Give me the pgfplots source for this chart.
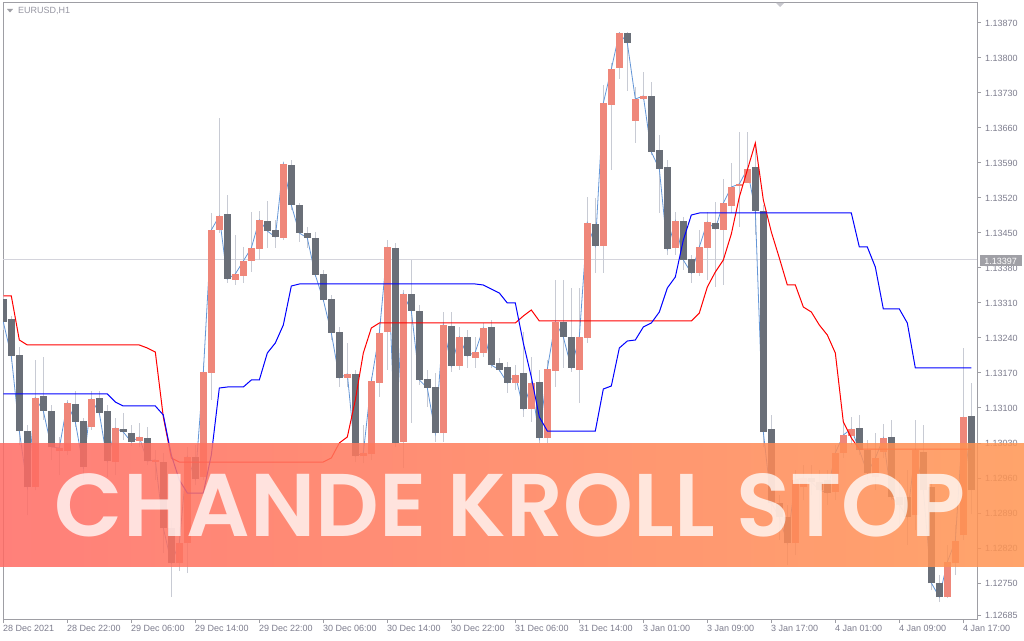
\documentclass[border=0pt]{standalone}
\usepackage{graphicx}
\usepackage{fontspec}
\setmainfont{Liberation Sans}
\newfontfamily\bannerfont{Poppins SemiBold}
\usepackage{pgfplots}
\pgfplotsset{compat=1.18}
\usepackage{pgfplotstable}
\definecolor{bullc}{RGB}{239,135,122}
\definecolor{bearc}{RGB}{106,111,120}
\definecolor{wickc}{RGB}{200,203,212}
\definecolor{closec}{RGB}{100,150,215}
\definecolor{axisc}{RGB}{158,158,164}
\definecolor{tickc}{RGB}{125,125,142}
\definecolor{titlec}{RGB}{150,150,162}
\definecolor{markc}{RGB}{200,200,206}
\definecolor{bidc}{RGB}{212,212,220}
\definecolor{bannerL}{RGB}{255,106,99}
\definecolor{bannerR}{RGB}{255,149,82}
\definecolor{priceboxc}{RGB}{160,160,166}
\pgfplotstableread{
i o h l c
0 1.13318 1.13326 1.13256 1.13272
1 1.13278 1.13284 1.13192 1.13204
2 1.13206 1.13222 1.13026 1.13054
3 1.13054 1.13066 1.12886 1.12942
4 1.12942 1.13196 1.12936 1.13120
5 1.13124 1.13202 1.13076 1.13094
6 1.13094 1.13106 1.12996 1.13022
7 1.13014 1.13042 1.12966 1.13020
8 1.13014 1.13116 1.13006 1.13110
9 1.13108 1.13134 1.13062 1.13072
10 1.13074 1.13080 1.12956 1.12982
11 1.13062 1.13134 1.13056 1.13118
12 1.13120 1.13134 1.13086 1.13090
13 1.13094 1.13106 1.12962 1.12994
14 1.12992 1.13080 1.12966 1.13060
15 1.13058 1.13090 1.13036 1.13052
16 1.13050 1.13066 1.13024 1.13032
17 1.13034 1.13070 1.13022 1.13042
18 1.13040 1.13062 1.12986 1.12994
19 1.12992 1.13016 1.12956 1.12996
20 1.12992 1.13010 1.12810 1.12860
21 1.12860 1.12876 1.12722 1.12790
22 1.12790 1.12862 1.12774 1.12830
23 1.12830 1.13022 1.12770 1.13002
24 1.13002 1.13026 1.12946 1.12958
25 1.12962 1.13190 1.12956 1.13172
26 1.13170 1.13490 1.13116 1.13456
27 1.13456 1.13680 1.13450 1.13484
28 1.13488 1.13526 1.13350 1.13358
29 1.13356 1.13446 1.13346 1.13368
30 1.13364 1.13422 1.13350 1.13394
31 1.13394 1.13492 1.13372 1.13420
32 1.13418 1.13494 1.13396 1.13476
33 1.13474 1.13514 1.13420 1.13454
34 1.13456 1.13476 1.13420 1.13442
35 1.13440 1.13592 1.13436 1.13588
36 1.13586 1.13596 1.13496 1.13506
37 1.13506 1.13510 1.13432 1.13450
38 1.13450 1.13462 1.13420 1.13440
39 1.13440 1.13452 1.13362 1.13366
40 1.13368 1.13376 1.13312 1.13316
41 1.13318 1.13326 1.13236 1.13250
42 1.13252 1.13262 1.13142 1.13160
43 1.13160 1.13230 1.13142 1.13168
44 1.13168 1.13176 1.12992 1.13004
45 1.13004 1.13066 1.12990 1.13010
46 1.13008 1.13162 1.12996 1.13154
47 1.13150 1.13270 1.13122 1.13250
48 1.13252 1.13436 1.13176 1.13422
49 1.13420 1.13430 1.13022 1.13030
50 1.13032 1.13336 1.12980 1.13328
51 1.13328 1.13396 1.13070 1.13294
52 1.13294 1.13306 1.13146 1.13156
53 1.13158 1.13176 1.13102 1.13140
54 1.13142 1.13170 1.13032 1.13050
55 1.13050 1.13292 1.13032 1.13266
56 1.13264 1.13292 1.13172 1.13184
57 1.13184 1.13262 1.13176 1.13242
58 1.13242 1.13256 1.13180 1.13204
59 1.13200 1.13242 1.13180 1.13212
60 1.13210 1.13270 1.13202 1.13260
61 1.13262 1.13276 1.13180 1.13186
62 1.13190 1.13200 1.13172 1.13176
63 1.13182 1.13192 1.13130 1.13150
64 1.13150 1.13186 1.13136 1.13166
65 1.13170 1.13252 1.13082 1.13098
66 1.13098 1.13202 1.13072 1.13150
67 1.13152 1.13176 1.13030 1.13040
68 1.13040 1.13196 1.13030 1.13178
69 1.13174 1.13356 1.13142 1.13272
70 1.13272 1.13356 1.13180 1.13242
71 1.13242 1.13340 1.13172 1.13180
72 1.13176 1.13340 1.13110 1.13242
73 1.13240 1.13522 1.13230 1.13470
74 1.13468 1.13520 1.13370 1.13424
75 1.13424 1.13746 1.13370 1.13710
76 1.13706 1.13790 1.13576 1.13778
77 1.13780 1.13852 1.13758 1.13850
78 1.13850 1.13852 1.13734 1.13830
79 1.13674 1.13742 1.13630 1.13718
80 1.13718 1.13772 1.13716 1.13724
81 1.13724 1.13752 1.13606 1.13612
82 1.13616 1.13646 1.13490 1.13578
83 1.13582 1.13596 1.13406 1.13418
84 1.13420 1.13492 1.13406 1.13474
85 1.13474 1.13482 1.13376 1.13396
86 1.13398 1.13406 1.13350 1.13370
87 1.13370 1.13456 1.13364 1.13422
88 1.13420 1.13492 1.13356 1.13472
89 1.13470 1.13512 1.13342 1.13458
90 1.13456 1.13558 1.13346 1.13510
91 1.13504 1.13590 1.13490 1.13542
92 1.13544 1.13652 1.13462 1.13548
93 1.13550 1.13652 1.13550 1.13578
94 1.13582 1.13626 1.13446 1.13494
95 1.13494 1.13506 1.13022 1.13052
96 1.13058 1.13086 1.12890 1.12910
97 1.12910 1.12926 1.12836 1.12882
98 1.12882 1.12906 1.12786 1.12830
99 1.12830 1.12976 1.12806 1.12956
100 1.12942 1.12986 1.12916 1.12960
101 1.12960 1.12986 1.12926 1.12952
102 1.12952 1.12976 1.12876 1.12936
103 1.12956 1.12976 1.12906 1.12930
104 1.12932 1.13026 1.12916 1.13010
105 1.13010 1.13076 1.13000 1.13046
106 1.13044 1.13082 1.13026 1.13058
107 1.13060 1.13086 1.13006 1.13016
108 1.13016 1.13036 1.12956 1.12970
109 1.12962 1.13050 1.12936 1.13000
110 1.13012 1.13068 1.13000 1.13040
111 1.13042 1.13076 1.12916 1.12922
112 1.12922 1.12956 1.12866 1.12906
113 1.12922 1.12976 1.12826 1.12882
114 1.12886 1.13076 1.12856 1.13016
115 1.13012 1.13066 1.12926 1.12936
116 1.12942 1.12956 1.12736 1.12750
117 1.12750 1.12766 1.12712 1.12722
118 1.12722 1.12826 1.12720 1.12792
119 1.12790 1.12866 1.12766 1.12834
120 1.12846 1.13220 1.12836 1.13082
121 1.13084 1.13150 1.12888 1.12936
}\candles
\pgfplotstableread{
i v
0 1.13324
1 1.13324
2 1.13236
3 1.13226
17 1.13226
18 1.13220
19 1.13212
20 1.13082
21 1.13000
22 1.12992
40 1.12992
41 1.13000
42 1.13030
43 1.13042
44 1.13116
45 1.13210
46 1.13260
47 1.13270
64 1.13270
65 1.13284
66 1.13296
67 1.13274
86 1.13274
87 1.13290
88 1.13342
89 1.13372
90 1.13396
91 1.13448
92 1.13522
93 1.13576
94 1.13630
95 1.13516
96 1.13452
97 1.13400
98 1.13346
99 1.13346
100 1.13302
101 1.13292
102 1.13266
103 1.13246
104 1.13210
105 1.13072
106 1.13040
107 1.13018
121 1.13018
}\redstop
\pgfplotstableread{
i v
0 1.13128
13 1.13128
14 1.13112
15 1.13104
19 1.13104
20 1.13086
21 1.13006
22 1.12956
23 1.12930
25 1.12930
26 1.13006
27 1.13140
28 1.13142
30 1.13142
31 1.13156
32 1.13156
33 1.13210
34 1.13230
35 1.13266
36 1.13344
37 1.13348
59 1.13348
60 1.13346
61 1.13338
62 1.13330
63 1.13310
64 1.13310
65 1.13230
66 1.13162
67 1.13082
68 1.13054
74 1.13054
75 1.13138
76 1.13144
77 1.13220
78 1.13234
79 1.13236
80 1.13262
81 1.13270
82 1.13292
83 1.13340
84 1.13362
85 1.13436
86 1.13486
87 1.13490
106 1.13490
107 1.13422
108 1.13422
109 1.13382
110 1.13298
112 1.13298
113 1.13270
114 1.13180
121 1.13180
}\bluestop
\begin{document}
\begin{tikzpicture}
\useasboundingbox (0,0) rectangle (1024pt,640pt);
\fill[white] (0,0) rectangle (1024pt,640pt);
\begin{axis}[
  at={(3pt,21pt)}, anchor=south west,
  scale only axis, width=974pt, height=616pt,
  xmin=-0.04, xmax=121.71, ymin=1.12678, ymax=1.13910,
  axis line style={draw=axisc, line width=1pt},
  xtick={0,8,...,120},
  xticklabels={28 Dec 2021,28 Dec 22:00,29 Dec 06:00,29 Dec 14:00,29 Dec 22:00,30 Dec 06:00,30 Dec 14:00,30 Dec 22:00,31 Dec 06:00,31 Dec 14:00,3 Jan 01:00,3 Jan 09:00,3 Jan 17:00,4 Jan 01:00,4 Jan 09:00,4 Jan 17:00},
  ytick={1.12685,1.12750,1.12820,1.12890,1.12960,1.13030,1.13100,1.13170,1.13240,1.13310,1.13380,1.13450,1.13520,1.13590,1.13660,1.13730,1.13800,1.13870},
  yticklabels={1.12685,1.12750,1.12820,1.12890,1.12960,1.13030,1.13100,1.13170,1.13240,1.13310,1.13380,1.13450,1.13520,1.13590,1.13660,1.13730,1.13800,1.13870},
  xtick pos=left, ytick pos=right, yticklabel pos=right,
  tick align=outside, major tick length=4pt,
  tick style={draw=axisc, line width=1pt},
  ticklabel style={font=\fontsize{9pt}{10pt}\selectfont, text=tickc},
  xticklabel style={anchor=north west, inner sep=0pt, yshift=-2pt, xshift=-0.5pt},
  yticklabel style={anchor=west, inner sep=0pt, xshift=4pt},
  scaled y ticks=false,
  clip=true,
]
% bid line
\addplot[bidc, line width=1pt, forget plot] coordinates {(-0.04,1.13397) (121.71,1.13397)};
% wicks
\addplot[draw=none, no marks, forget plot,
  error bars/.cd, y dir=plus, y explicit, error mark=none,
  error bar style={line width=1pt, draw=wickc}]
  table[x=i, y=l, y error plus expr={\thisrow{h}-\thisrow{l}}] {\candles};
% close line
\addplot[closec, line width=0.8pt, no marks, forget plot] table[x=i, y=c] {\candles};
% bull bodies
\addplot[draw=none, no marks, forget plot,
  error bars/.cd, y dir=plus, y explicit, error mark=none,
  error bar style={line width=7pt, draw=bullc}]
  table[x=i, y=o, y error plus expr={max(\thisrow{c}-\thisrow{o},0)}] {\candles};
% bear bodies
\addplot[draw=none, no marks, forget plot,
  error bars/.cd, y dir=plus, y explicit, error mark=none,
  error bar style={line width=7pt, draw=bearc}]
  table[x=i, y=c, y error plus expr={max(\thisrow{o}-\thisrow{c},0)}] {\candles};
% Chande Kroll stop lines
\addplot[red, line width=1pt, no marks, forget plot] table[x=i, y=v] {\redstop};
\addplot[blue, line width=1pt, no marks, forget plot] table[x=i, y=v] {\bluestop};
\end{axis}
% price label
\node[fill=priceboxc, text=white, inner sep=0pt, minimum width=42pt, minimum height=11pt, font=\fontsize{9pt}{10pt}\selectfont] at (1000.5pt,379pt) {1.13397};
% title
\fill[axisc] (7pt,631pt) -- (13pt,631pt) -- (10pt,627.5pt) -- cycle;
\node[anchor=west, inner sep=0pt, text=titlec, font=\fontsize{9pt}{10pt}\selectfont] at (18pt,629pt) {EURUSD,H1};
\fill[markc] (776pt,637pt) -- (784pt,637pt) -- (780pt,633pt) -- cycle;
% banner
\shade[left color=bannerL, right color=bannerR, opacity=0.85] (0pt,74pt) rectangle (1024pt,197pt);
\node[inner sep=0pt, text=white, text opacity=0.76] at (510pt,134.5pt) {\resizebox{910pt}{63pt}{\bannerfont CHANDE KROLL STOP}};
\end{tikzpicture}
\end{document}
